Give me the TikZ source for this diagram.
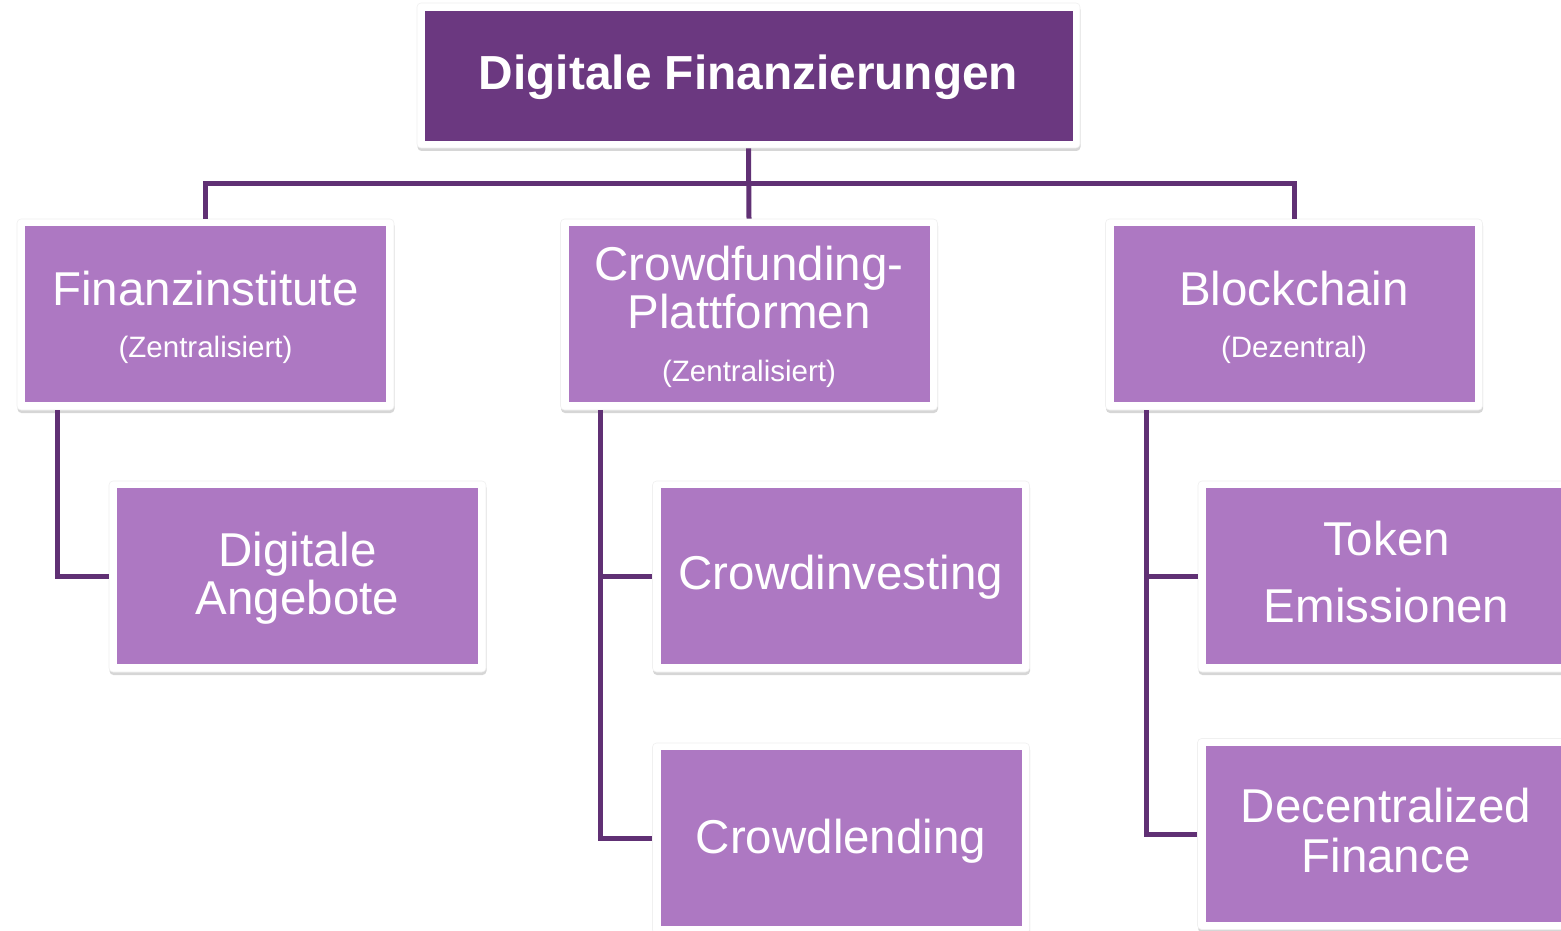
\documentclass[tikz,border=0pt]{standalone}
\usepackage{fontspec}
\setmainfont{Liberation Sans}
\usetikzlibrary{shadows}
\definecolor{topfill}{RGB}{107,56,128}
\definecolor{boxfill}{RGB}{173,120,194}
\definecolor{linec}{RGB}{96,48,116}
\tikzset{
  frame/.style={rectangle, rounded corners=4pt, fill=white, draw=black!6, line width=0.6pt,
    inner sep=0pt, minimum width=377pt, minimum height=191pt,
    drop shadow={shadow xshift=0.5pt, shadow yshift=-3pt, fill=black!35, opacity=0.45}},
  innerbox/.style={rectangle, fill=boxfill, inner sep=0pt, minimum width=361pt, minimum height=176pt},
  bigtxt/.style={text=white, font=\fontsize{47.5}{50}\selectfont, anchor=base, inner sep=0pt},
  smalltxt/.style={text=white, font=\fontsize{29.5}{32}\selectfont, anchor=base, inner sep=0pt},
  titletxt/.style={text=white, font=\bfseries\fontsize{47.8}{50}\selectfont, anchor=base, inner sep=0pt},
  conn/.style={draw=linec, line width=5pt},
}
\begin{document}
\begin{tikzpicture}[x=1pt,y=-1pt]
\clip (0,0) rectangle (1561,931);
\fill[white] (0,0) rectangle (1561,931);

% top box
\node[frame, minimum width=663pt, minimum height=145pt] (topo) at (748.5,75.5) {};
\node[rectangle, fill=topfill, inner sep=0pt, minimum width=648pt, minimum height=130pt] (topi) at (749,76) {};
\node[titletxt] (tt) at (748.5,90) {Digitale Finanzierungen};

% level 1
\node[frame] (f1o) at (205.5,314.5) {};
\node[innerbox] (f1i) at (205.5,314) {};
\node[bigtxt] (f1a) at (205.5,305) {Finanzinstitute};
\node[smalltxt] (f1b) at (205.5,357) {(Zentralisiert)};

\node[frame] (c1o) at (749,314.5) {};
\node[innerbox] (c1i) at (749,314) {};
\node[bigtxt] (c1a) at (749,280) {Crowdfunding-};
\node[bigtxt] (c1b) at (749,328) {Plattformen};
\node[smalltxt] (c1c) at (749,381) {(Zentralisiert)};

\node[frame] (b1o) at (1294,314.5) {};
\node[innerbox] (b1i) at (1294,314) {};
\node[bigtxt] (b1a) at (1294,305) {Blockchain};
\node[smalltxt] (b1b) at (1294,357) {(Dezentral)};

% level 2
\node[frame] (dao) at (297.5,576.5) {};
\node[innerbox] (dai) at (297.5,576) {};
\node[bigtxt] (daa) at (297.5,566) {Digitale};
\node[bigtxt] (dab) at (297.5,614) {Angebote};

\node[frame] (cio) at (841,576.5) {};
\node[innerbox] (cii) at (841,576) {};
\node[bigtxt] (cia) at (841,589) {Crowdinvesting};

\node[frame] (clo) at (841,838.5) {};
\node[innerbox] (cli) at (841,838) {};
\node[bigtxt] (cla) at (841,853) {Crowdlending};

\node[frame] (teo) at (1386.5,576.5) {};
\node[innerbox] (tei) at (1386.5,576) {};
\node[bigtxt] (tea) at (1386.5,555) {Token};
\node[bigtxt] (teb) at (1386.5,622) {Emissionen};

\node[frame] (dfo) at (1386,834) {};
\node[innerbox] (dfi) at (1386,833.5) {};
\node[bigtxt] (dfa) at (1386,822) {Decentralized};
\node[bigtxt] (dfb) at (1386,872) {Finance};

% connectors
\coordinate (bus) at (748.5,183);
\draw[conn] (topo.south) -- (c1o.north);
\draw[conn] (f1o.north) -- (f1o.north |- bus) -- (b1o.north |- bus) -- (b1o.north);

\coordinate (lv) at ([xshift=41pt]f1o.south west);
\coordinate (mv) at ([xshift=40pt]c1o.south west);
\coordinate (rv) at ([xshift=41pt]b1o.south west);
\draw[conn] (lv) |- (dao.west);
\draw[conn] (mv) |- (cio.west);
\draw[conn] (mv) |- (clo.west);
\draw[conn] (rv) |- (teo.west);
\draw[conn] (rv) |- (dfo.west);
\end{tikzpicture}
\end{document}
